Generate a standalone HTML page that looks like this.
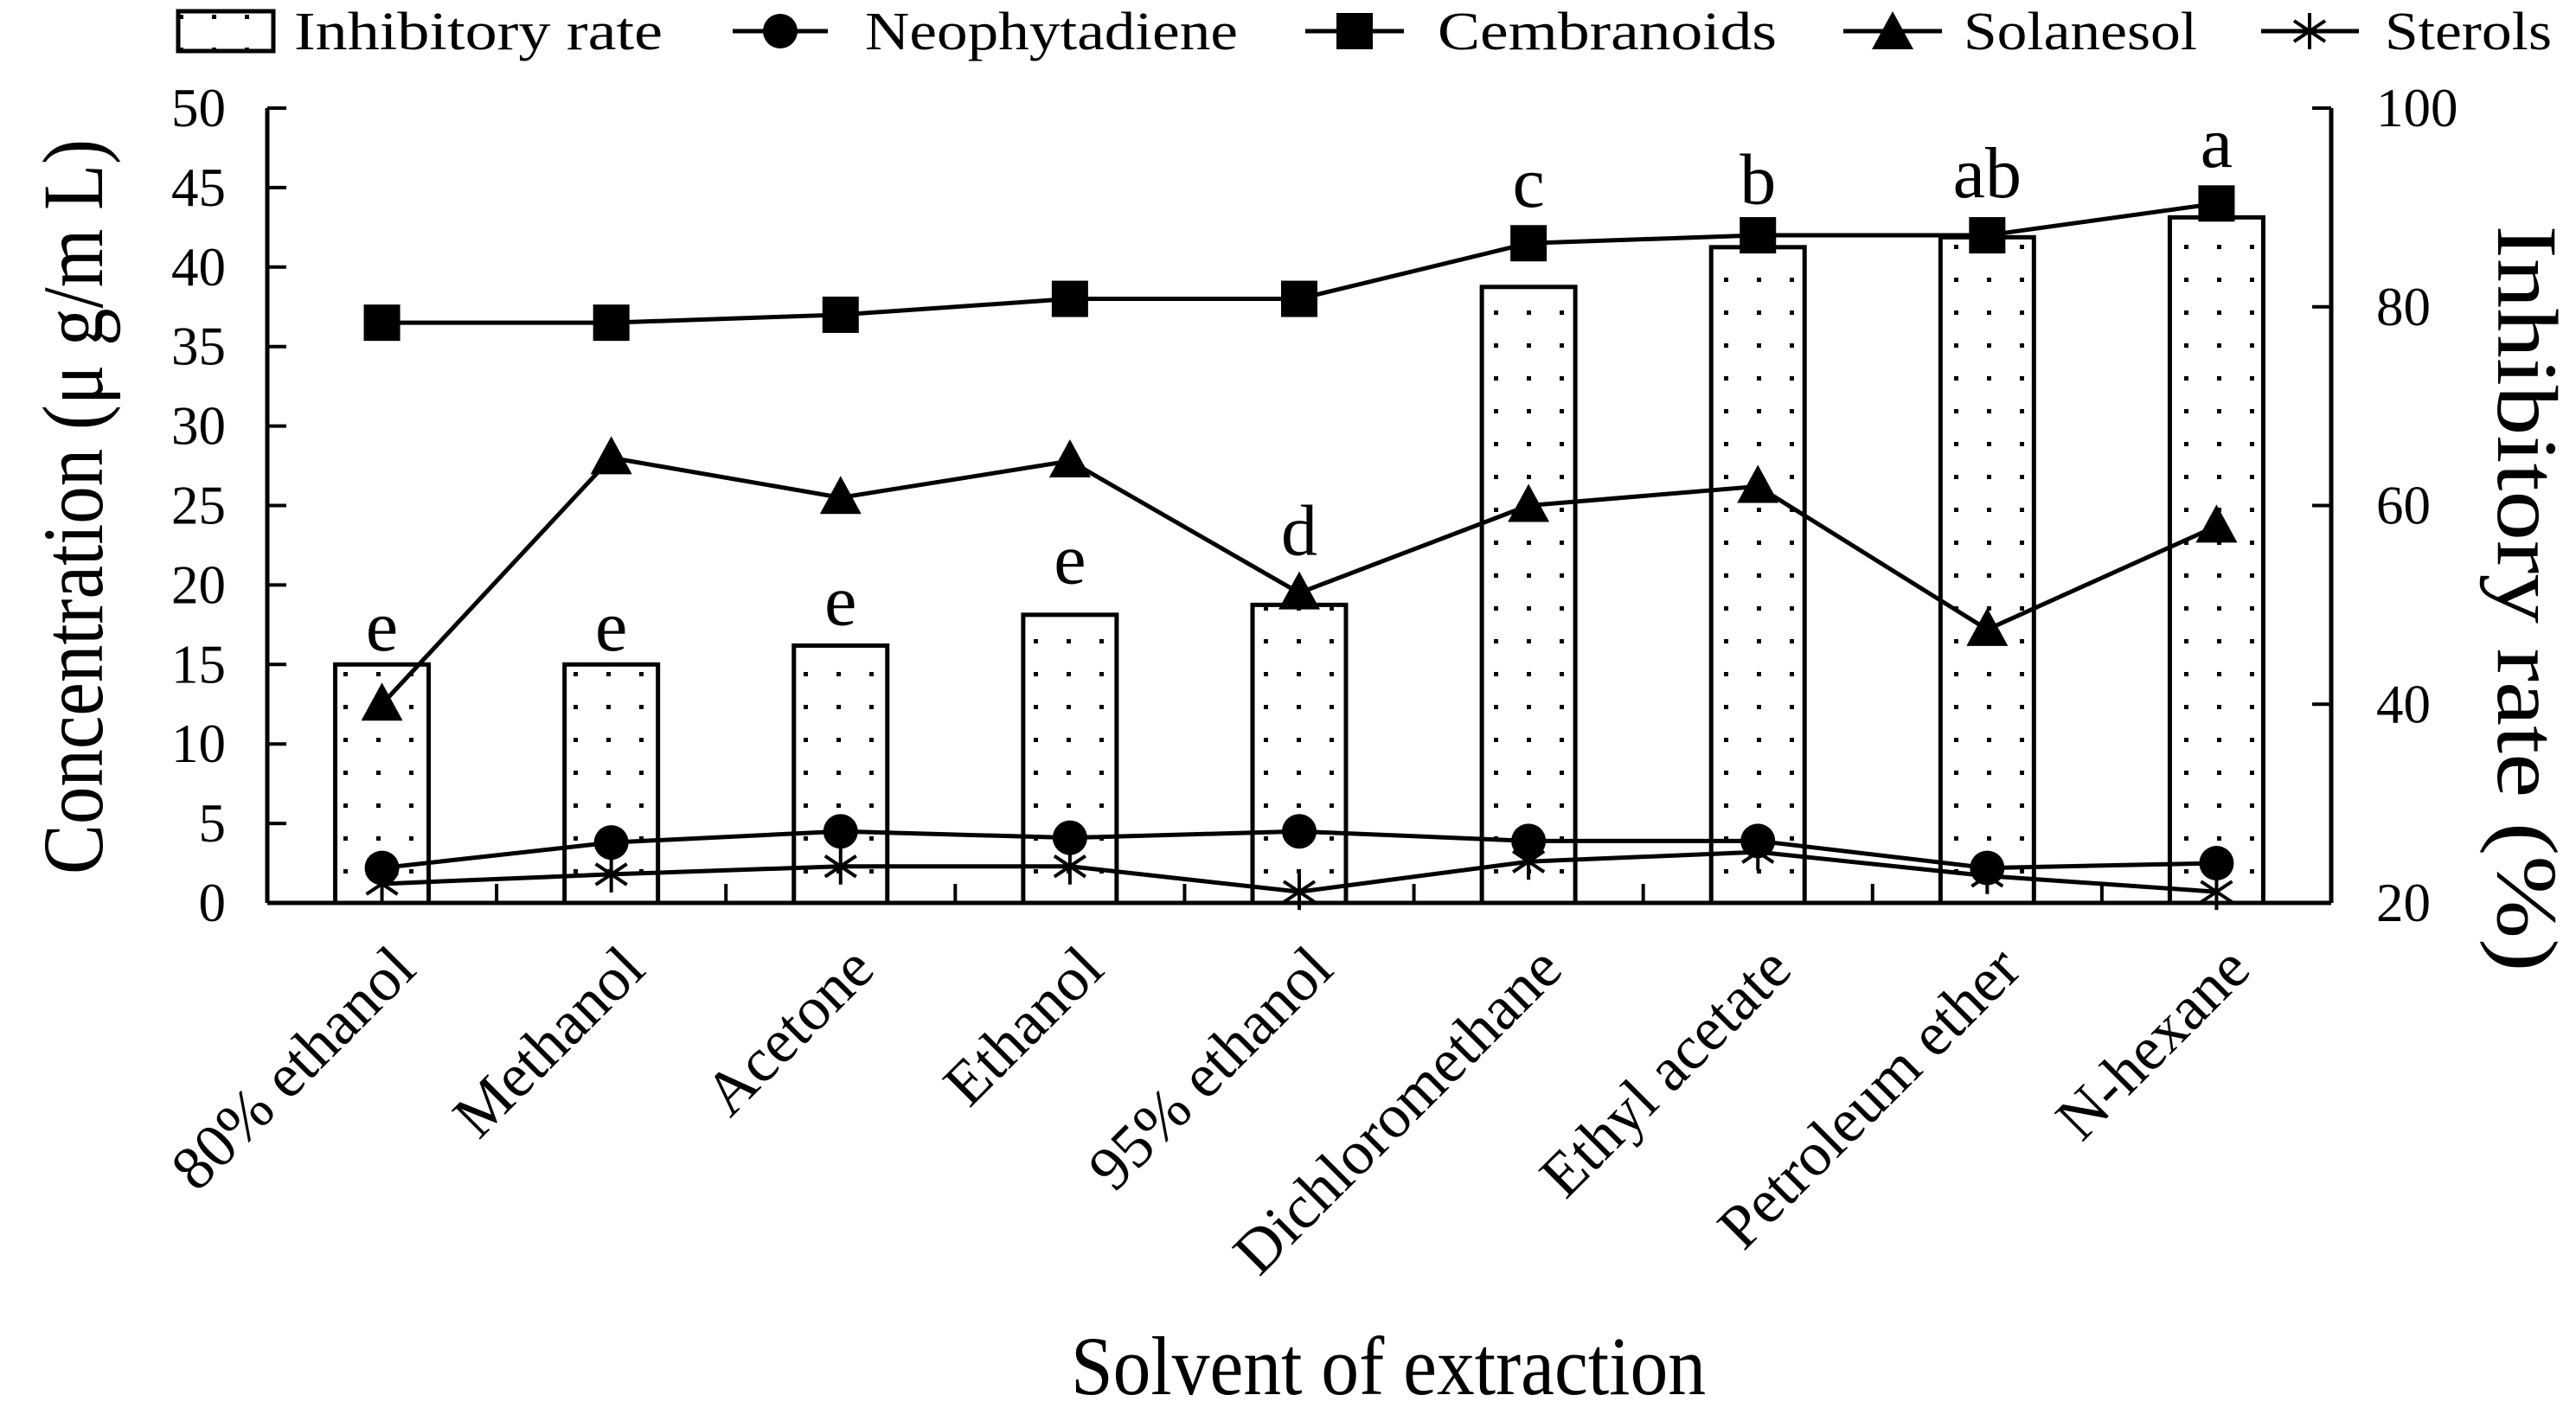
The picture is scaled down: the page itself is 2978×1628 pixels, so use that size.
<!DOCTYPE html>
<html><head><meta charset="utf-8"><style>
html,body{margin:0;padding:0;background:#fff;}
svg{display:block;font-family:"Liberation Serif",serif;}
</style></head><body>
<svg id="chart" width="2978" height="1628" viewBox="0 0 2978 1628" xmlns="http://www.w3.org/2000/svg">
<defs>
<pattern id="dots" width="38" height="38" patternUnits="userSpaceOnUse" x="0" y="0">
<rect x="17" y="17" width="5" height="5" fill="#000"/>
</pattern>
</defs>
<g id="legend" font-size="62">
  <g>
    <rect x="206" y="13" width="110" height="46" fill="url(#dots)" stroke="#000" stroke-width="5"/>
    <text x="340" y="57" textLength="426" lengthAdjust="spacingAndGlyphs">Inhibitory rate</text>
  </g>
  <g>
    <line x1="847" y1="36" x2="957" y2="36" stroke="#000" stroke-width="5"/>
    <circle cx="902" cy="36" r="20" fill="#000"/>
    <text x="1000" y="57" textLength="431" lengthAdjust="spacingAndGlyphs">Neophytadiene</text>
  </g>
  <g>
    <line x1="1509" y1="36" x2="1623" y2="36" stroke="#000" stroke-width="5"/>
    <rect x="1545" y="15" width="42" height="42" fill="#000"/>
    <text x="1662" y="57" textLength="392" lengthAdjust="spacingAndGlyphs">Cembranoids</text>
  </g>
  <g>
    <line x1="2131" y1="36" x2="2245" y2="36" stroke="#000" stroke-width="5"/>
    <polygon points="2188,13 2212,57 2164,57" fill="#000"/>
    <text x="2270" y="57" textLength="270" lengthAdjust="spacingAndGlyphs">Solanesol</text>
  </g>
  <g>
    <line x1="2614" y1="36" x2="2727" y2="36" stroke="#000" stroke-width="5"/>
    <g stroke="#000" stroke-width="4"><line x1="2670" y1="15" x2="2670" y2="57"/><line x1="2652" y1="24" x2="2688" y2="48"/><line x1="2652" y1="48" x2="2688" y2="24"/></g>
    <text x="2757" y="57" textLength="193" lengthAdjust="spacingAndGlyphs">Sterols</text>
  </g>
</g>
<g id="bars"></g>
<g id="axes"></g>
<g id="lines"></g>
<g id="labels"></g>
<text font-size="100" text-anchor="middle" transform="translate(118,586) rotate(-90)" textLength="850" lengthAdjust="spacingAndGlyphs">Concentration (μ g/m L)</text>
<text font-size="100" text-anchor="middle" transform="translate(2888,692) rotate(90)" textLength="863" lengthAdjust="spacingAndGlyphs">Inhibitory rate (%)</text>
<text font-size="96" text-anchor="middle" x="1605" y="1612" textLength="734" lengthAdjust="spacingAndGlyphs">Solvent of extraction</text>
</svg>
<script>
const categories = ["80% ethanol","Methanol","Acetone","Ethanol","95% ethanol","Dichloromethane","Ethyl acetate","Petroleum ether","N-hexane"];
const inhibitoryRate = [44, 44, 45.9, 49, 50, 82, 86, 87, 89];
const cembranoids = [36.5, 36.5, 37, 38, 38, 41.5, 42, 42, 44];
const solanesol = [12.5, 28, 25.5, 27.8, 19.5, 25, 26.2, 17.2, 23.7];
const neophytadiene = [2.2, 3.8, 4.5, 4.1, 4.5, 3.9, 3.9, 2.2, 2.5];
const sterols = [1.2, 1.8, 2.3, 2.3, 0.7, 2.6, 3.2, 1.7, 0.7];
const sigLetters = ["e","e","e","e","d","c","b","ab","a"];
const sigLetterLevel = [15.9, 15.9, 17.5, 20.1, 21.9, 43.8, 44.0, 44.4, 46.3];
const leftTicks = [0,5,10,15,20,25,30,35,40,45,50];
const rightTicks = [20,40,60,80,100];

const NS="http://www.w3.org/2000/svg";
const X0=309, X1=2695, Y0=1044, YT=125;
const catW=(X1-X0)/categories.length;
function xC(i){return X0+catW*(i+0.5);}
function yL(v){return Y0-(v/50)*(Y0-YT);}
function yR(v){return Y0-((v-20)/80)*(Y0-YT);}
function mk(tag,attrs,parent){const e=document.createElementNS(NS,tag);for(const k in attrs)e.setAttribute(k,attrs[k]);parent.appendChild(e);return e;}

const bars=document.getElementById('bars');
inhibitoryRate.forEach((v,i)=>{
  const r=mk('rect',{x:xC(i)-54,y:yR(v),width:108,height:Y0-yR(v),fill:'url(#dots)',stroke:'#000','stroke-width':5},bars);
  
  
});

const axes=document.getElementById('axes');
const la=mk('line',{x1:X0,y1:YT,x2:X0,y2:Y0,stroke:'#000','stroke-width':5},axes);


const ra=mk('line',{x1:X1,y1:YT,x2:X1,y2:Y0,stroke:'#000','stroke-width':5},axes);


const xa=mk('line',{x1:X0,y1:Y0,x2:X1,y2:Y0,stroke:'#000','stroke-width':5},axes);


leftTicks.forEach(t=>{
  mk('line',{x1:X0,y1:yL(t),x2:X0+22,y2:yL(t),stroke:'#000','stroke-width':4},axes);
  const tx=mk('text',{x:X0-48,y:yL(t)+21,'font-size':63,'text-anchor':'end'},axes);
  tx.textContent=t;
  
  
});
rightTicks.forEach(t=>{
  mk('line',{x1:X1-22,y1:yR(t),x2:X1,y2:yR(t),stroke:'#000','stroke-width':4},axes);
  const tx=mk('text',{x:X1+52,y:yR(t)+21,'font-size':63},axes);
  tx.textContent=t;
  
  
});
for(let i=1;i<categories.length;i++){
  mk('line',{x1:X0+catW*i,y1:Y0,x2:X0+catW*i,y2:Y0-22,stroke:'#000','stroke-width':4},axes);
}

const lines=document.getElementById('lines');
function series(vals,name,marker){
  const g=mk('g',{},lines);
  
  
  mk('polyline',{points:vals.map((v,i)=>xC(i)+','+yL(v)).join(' '),fill:'none',stroke:'#000','stroke-width':5},g);
  vals.forEach((v,i)=>{
    const x=xC(i),y=yL(v);let m;
    if(marker==='circle')m=mk('circle',{cx:x,cy:y,r:20,fill:'#000'},g);
    else if(marker==='square')m=mk('rect',{x:x-21,y:y-21,width:42,height:42,fill:'#000'},g);
    else if(marker==='triangle')m=mk('polygon',{points:`${x},${y-25} ${x+24},${y+19} ${x-24},${y+19}`,fill:'#000'},g);
    else{m=mk('g',{stroke:'#000','stroke-width':4},g);
      mk('line',{x1:x,y1:y-21,x2:x,y2:y+21},m);mk('line',{x1:x-18,y1:y-12,x2:x+18,y2:y+12},m);mk('line',{x1:x-18,y1:y+12,x2:x+18,y2:y-12},m);}
    
    
  });
}
series(cembranoids,'cembranoids','square');
series(solanesol,'solanesol','triangle');
series(neophytadiene,'neophytadiene','circle');
series(sterols,'sterols','star');

const labels=document.getElementById('labels');
sigLetters.forEach((s,i)=>{
  const t=mk('text',{x:xC(i),y:yL(sigLetterLevel[i]),'font-size':84,'text-anchor':'middle'},labels);
  t.textContent=s;
  
  
});
categories.forEach((c,i)=>{
  const x=xC(i)+42,y=1124;
  const t=mk('text',{x:x,y:y,'font-size':72,'text-anchor':'end',transform:`rotate(-45 ${x} ${y})`},labels);
  t.textContent=c;
  
  
});
</script>
</body></html>
